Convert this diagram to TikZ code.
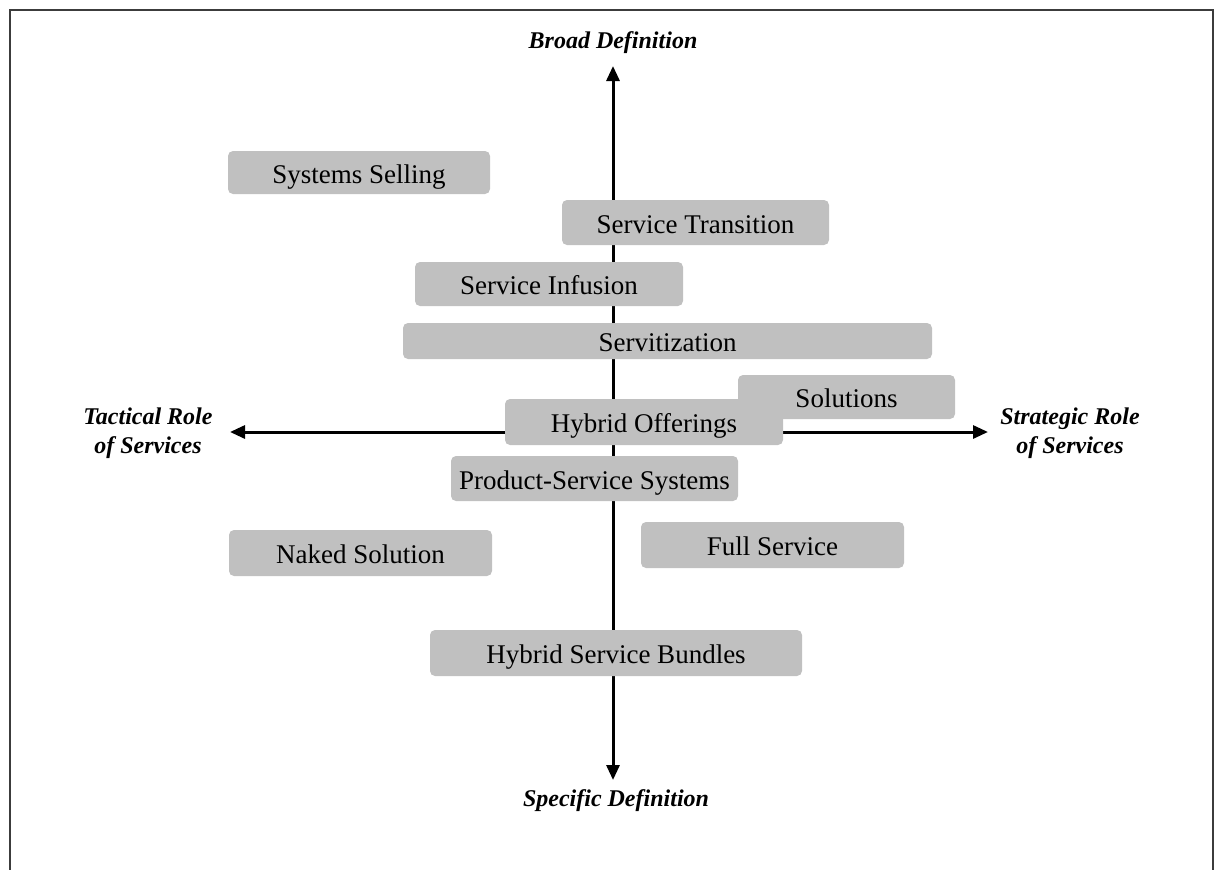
\documentclass[tikz,border=0pt]{standalone}
\usepackage{fontspec}
\setmainfont{Liberation Serif}
\usetikzlibrary{arrows.meta}
\definecolor{boxgray}{RGB}{192,192,192}
\definecolor{framegray}{RGB}{60,60,60}
\tikzset{
  box/.style={fill=boxgray, rounded corners=5pt, inner sep=0pt, text height=21pt, text depth=0pt, font=\fontsize{27}{30}\selectfont, text=black},
  axis/.style={line width=3pt, -{Triangle[length=15pt,width=13pt]}},
  axlabel/.style={font=\fontsize{24}{29}\selectfont\bfseries\itshape, align=center, inner sep=0pt}
}
\begin{document}
\begin{tikzpicture}[x=1pt,y=-1pt]
\useasboundingbox (0,0) rectangle (1218,870);
\draw[framegray, line width=2pt] (10,875) -- (10,10) -- (1213,10) -- (1213,875);
% axes
\coordinate (c) at (613,432);
\coordinate (up) at (613,66);
\coordinate (down) at (613,780);
\coordinate (left) at (230,432);
\coordinate (right) at (988,432);
\draw[axis] (c) -- (up);
\draw[axis] (c) -- (down);
\draw[axis] (c) -- (left);
\draw[axis] (c) -- (right);
% axis labels
\node[axlabel] (broad) at (613,43) {Broad Definition};
\node[axlabel] (spec) at (616,801) {Specific Definition};
\node[axlabel] (tact) at (148,433) {Tactical Role\\of Services};
\node[axlabel] (strat) at (1070,433) {Strategic Role\\of Services};
% boxes
\node[box, minimum width=262pt, minimum height=43pt] (ss) at (359,172.5) {Systems Selling};
\node[box, minimum width=267pt, minimum height=45pt] (st) at (695.5,222.5) {Service Transition};
\node[box, minimum width=268pt, minimum height=44pt] (si) at (549,284) {Service Infusion};
\node[box, minimum width=529pt, minimum height=36pt] (sv) at (667.5,341) {Servitization};
\node[box, minimum width=217pt, minimum height=44pt] (so) at (846.5,397) {Solutions};
\node[box, minimum width=278pt, minimum height=46pt] (ho) at (644,422) {Hybrid Offerings};
\node[box, minimum width=287pt, minimum height=45pt] (ps) at (594.5,478.5) {Product-Service Systems};
\node[box, minimum width=263pt, minimum height=46pt] (ns) at (360.5,553) {Naked Solution};
\node[box, minimum width=263pt, minimum height=46pt] (fs) at (772.5,545) {Full Service};
\node[box, minimum width=372pt, minimum height=46pt] (hb) at (616,653) {Hybrid Service Bundles};
\end{tikzpicture}
\end{document}
